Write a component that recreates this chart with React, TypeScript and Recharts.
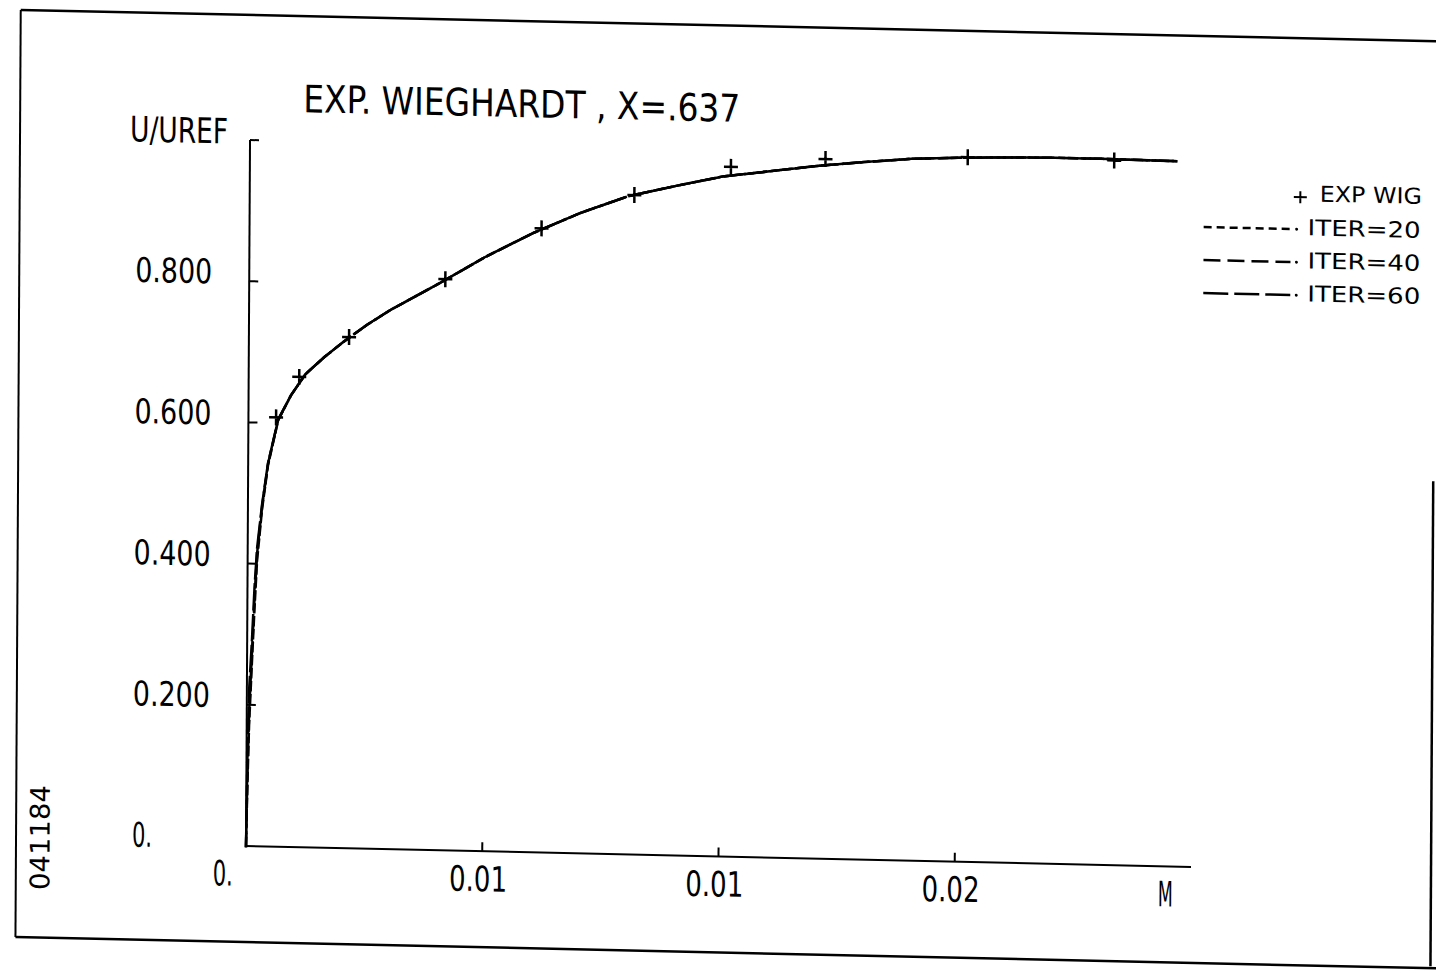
import React from 'react';
import { ComposedChart, Line, Scatter, XAxis, YAxis } from 'recharts';

// measured values (experiment, Wieghardt x=.637)
const expX = [0.000585, 0.00107, 0.00212, 0.00415, 0.00618, 0.00814, 0.01018, 0.01218, 0.01519, 0.01829];
const expU = [0.608, 0.666, 0.724, 0.809, 0.884, 0.934, 0.977, 0.991, 0.998, 0.998];

// computed profiles
const curveX = [
  0, 0.00002, 0.00005, 0.0001, 0.00015, 0.0002, 0.0003, 0.00042, 0.00063, 0.0009, 0.0012, 0.0016,
  0.002, 0.0025, 0.003, 0.004, 0.005, 0.006, 0.007, 0.008, 0.009, 0.01, 0.011, 0.012, 0.013, 0.014,
  0.015, 0.016, 0.017, 0.018, 0.0196,
];
const iter20U = [
  0, 0.08, 0.17, 0.255, 0.335, 0.405, 0.478, 0.54, 0.604, 0.64, 0.67, 0.695, 0.717, 0.742, 0.764,
  0.802, 0.842, 0.877, 0.907, 0.932, 0.948, 0.963, 0.972, 0.981, 0.988, 0.994, 0.997, 0.999, 1.0,
  1.0, 0.999,
];
const iter40U = [
  0, 0.1, 0.19, 0.27, 0.35, 0.415, 0.482, 0.542, 0.605, 0.64, 0.67, 0.695, 0.717, 0.742, 0.764,
  0.802, 0.842, 0.877, 0.907, 0.932, 0.948, 0.963, 0.972, 0.981, 0.988, 0.994, 0.997, 0.999, 1.0,
  1.0, 0.999,
];
const iter60U = [
  0, 0.13, 0.225, 0.29, 0.368, 0.423, 0.485, 0.543, 0.605, 0.64, 0.67, 0.695, 0.717, 0.742, 0.764,
  0.802, 0.842, 0.877, 0.907, 0.932, 0.948, 0.963, 0.972, 0.981, 0.988, 0.994, 0.997, 0.999, 1.0,
  1.0, 0.999,
];

const xTicks = [0, 0.005, 0.01, 0.015, 0.02];
const xTickLabels = ['0.', '0.01', '0.01', '0.02', 'M'];
const yTicks = [0, 0.2, 0.4, 0.6, 0.8, 1];
const yTickLabels = ['0.', '0.200', '0.400', '0.600', '0.800', ''];

const expData = expX.map((x, i) => ({ x, u: expU[i] }));
const iter20Data = curveX.map((x, i) => ({ x, u: iter20U[i] }));
const iter40Data = curveX.map((x, i) => ({ x, u: iter40U[i] }));
const iter60Data = curveX.map((x, i) => ({ x, u: iter60U[i] }));

const W = 1436;
const H = 976;
const AXIS_X = 246;
const AXIS_Y = 846;
const PLOT_FONT = "'Liberation Sans Narrow', 'DejaVu Sans Condensed', sans-serif";
const LEGEND_FONT = "'DejaVu Sans', Verdana, sans-serif";

const DASH20 = '8 5';
const DASH40 = '17 7';
const DASH60 = '25 6';

const labelWidth = (s: string) => (s === 'M' ? 15 : s.length * 19 - 18);

function XTick(props: any) {
  const { x, payload } = props;
  const i = xTicks.indexOf(payload.value);
  const label = xTickLabels[i] ?? '';
  const mark = i > 0 && i < xTicks.length - 1;
  return (
    <g>
      {mark && <line x1={x} y1={AXIS_Y} x2={x} y2={AXIS_Y - 9} stroke="#000" strokeWidth={2} />}
      <text
        x={x - 33}
        y={AXIS_Y + 40}
        fontFamily={PLOT_FONT}
        fontSize={35}
        fill="#000"
        textLength={labelWidth(label)}
        lengthAdjust="spacingAndGlyphs"
      >
        {label}
      </text>
    </g>
  );
}

function YTick(props: any) {
  const { y, payload } = props;
  const i = yTicks.indexOf(payload.value);
  const label = yTickLabels[i] ?? '';
  return (
    <g>
      {i > 0 && <line x1={AXIS_X} y1={y} x2={AXIS_X + 9} y2={y} stroke="#000" strokeWidth={2} />}
      {label && (
        <text
          x={132}
          y={y + 3}
          fontFamily={PLOT_FONT}
          fontSize={34}
          fill="#000"
          textLength={labelWidth(label)}
          lengthAdjust="spacingAndGlyphs"
        >
          {label}
        </text>
      )}
    </g>
  );
}

function Cross(props: any) {
  const { cx, cy } = props;
  if (cx == null || cy == null) return <g />;
  return (
    <path
      d={`M${cx - 7},${cy}H${cx + 7}M${cx},${cy - 8}V${cy + 8}`}
      stroke="#000"
      strokeWidth={2.5}
      fill="none"
    />
  );
}

function LegendRow({ y, dash, label }: { y: number; dash: string; label: string }) {
  return (
    <g>
      <line x1={1200} y1={y} x2={1287} y2={y} stroke="#000" strokeWidth={2.5} strokeDasharray={dash} />
      <circle cx={1293} cy={y} r={1.5} fill="#000" />
      <text
        x={1304}
        y={y + 6}
        fontFamily={LEGEND_FONT}
        fontSize={22}
        fill="#000"
        textLength={113}
        lengthAdjust="spacingAndGlyphs"
      >
        {label}
      </text>
    </g>
  );
}

export default function App() {
  return (
    <div
      style={{
        position: 'absolute',
        left: 0,
        top: 0,
        width: W,
        height: H,
        background: '#fff',
        overflow: 'hidden',
      }}
    >
      <div
        style={{
          position: 'absolute',
          left: 0,
          top: 0,
          width: W,
          height: H,
          transform: 'matrix(1, 0.0221, -0.0057, 1, 0, 0)',
          transformOrigin: `${AXIS_X}px ${AXIS_Y}px`,
        }}
      >
        <ComposedChart width={W} height={H} margin={{ top: 140, right: 245, left: 146, bottom: 70 }}>
          <XAxis
            dataKey="x"
            type="number"
            domain={[0, 0.02]}
            ticks={xTicks}
            interval={0}
            height={60}
            axisLine={{ stroke: '#000', strokeWidth: 2 }}
            tickLine={false}
            tick={(p: any) => <XTick {...p} />}
          />
          <YAxis
            type="number"
            domain={[0, 1]}
            ticks={yTicks}
            interval={0}
            width={100}
            axisLine={{ stroke: '#000', strokeWidth: 2 }}
            tickLine={false}
            tick={(p: any) => <YTick {...p} />}
          />
          <Line
            data={iter20Data}
            dataKey="u"
            name="ITER=20"
            type="linear"
            stroke="#000"
            strokeWidth={2.5}
            strokeDasharray={DASH20}
            strokeLinecap="square"
            dot={false}
            isAnimationActive={false}
          />
          <Line
            data={iter40Data}
            dataKey="u"
            name="ITER=40"
            type="linear"
            stroke="#000"
            strokeWidth={2.5}
            strokeDasharray={DASH40}
            strokeDashoffset={5}
            strokeLinecap="square"
            dot={false}
            isAnimationActive={false}
          />
          <Line
            data={iter60Data}
            dataKey="u"
            name="ITER=60"
            type="linear"
            stroke="#000"
            strokeWidth={2.5}
            strokeDasharray={DASH60}
            strokeDashoffset={11}
            strokeLinecap="square"
            dot={false}
            isAnimationActive={false}
          />
          <Scatter data={expData} dataKey="u" name="EXP WIG" shape={Cross} isAnimationActive={false} />
        </ComposedChart>

        <svg
          width={W}
          height={H}
          style={{ position: 'absolute', left: 0, top: 0, pointerEvents: 'none', overflow: 'visible' }}
        >
          {/* paper frame */}
          <line x1={16} y1={15} x2={1460} y2={15} stroke="#000" strokeWidth={2.5} />
          <line x1={16} y1={15} x2={16} y2={942} stroke="#000" strokeWidth={2} />
          <line x1={16} y1={942} x2={1460} y2={942} stroke="#000" strokeWidth={2.5} />
          <line x1={1431} y1={455} x2={1431} y2={940} stroke="#000" strokeWidth={2.5} />

          <text
            x={299}
            y={111}
            fontFamily={PLOT_FONT}
            fontSize={38}
            fill="#000"
            textLength={437}
            lengthAdjust="spacingAndGlyphs"
          >
            EXP. WIEGHARDT , X=.637
          </text>
          <text
            x={126}
            y={144}
            fontFamily={PLOT_FONT}
            fontSize={35}
            fill="#000"
            textLength={98}
            lengthAdjust="spacingAndGlyphs"
          >
            U/UREF
          </text>

          {/* legend */}
          <path d="M1290,174H1303M1296.5,168V180" stroke="#000" strokeWidth={2} />
          <text
            x={1316}
            y={178}
            fontFamily={LEGEND_FONT}
            fontSize={22}
            fill="#000"
            textLength={102}
            lengthAdjust="spacingAndGlyphs"
          >
            EXP WIG
          </text>
          <LegendRow y={206} dash={DASH20} label="ITER=20" />
          <LegendRow y={239} dash={DASH40} label="ITER=40" />
          <LegendRow y={272} dash={DASH60} label="ITER=60" />

          <text
            x={40}
            y={842}
            transform="rotate(-90 40 842)"
            textAnchor="middle"
            dominantBaseline="central"
            fontFamily={LEGEND_FONT}
            fontSize={27}
            fill="#000"
            textLength={105}
            lengthAdjust="spacingAndGlyphs"
          >
            041184
          </text>
        </svg>
      </div>
    </div>
  );
}
